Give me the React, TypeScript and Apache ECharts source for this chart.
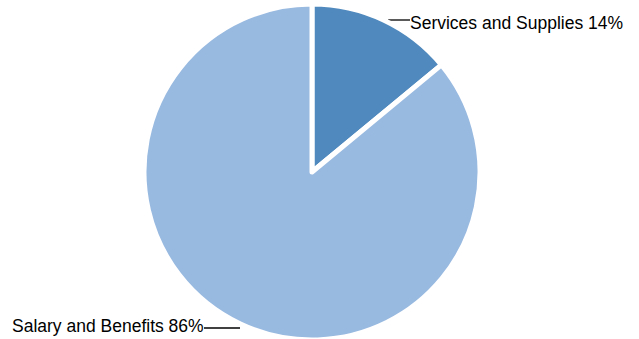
import React, { useEffect, useRef } from "react";
import * as echarts from "echarts";

const categories = ["Services and Supplies", "Salary and Benefits"];
const values = [14, 86];
const colors = ["#4F89BD", "#98B9E0"];

export default function App() {
  const ref = useRef<HTMLDivElement>(null);
  useEffect(() => {
    if (!ref.current) return;
    const chart = echarts.init(ref.current, null, { renderer: "svg" });
    const labelPos = [
      { x: 410, y: 23, line: [[388, 20], [410, 20]] },
      { x: 12, y: 326, line: [[204, 328], [240, 328]] },
    ];
    chart.setOption({
      animation: false,
      backgroundColor: "#ffffff",
      series: [
        {
          type: "pie",
          center: [312, 172],
          radius: 168,
          startAngle: 90,
          clockwise: true,
          avoidLabelOverlap: false,
          data: categories.map((c, i) => ({
            name: c,
            value: values[i],
            itemStyle: { color: colors[i] },
          })),
          itemStyle: { borderColor: "#ffffff", borderWidth: 5, borderJoin: "round" },
          label: {
            show: true,
            formatter: "{b} {c}%",
            fontFamily: "'Liberation Sans', Arial, sans-serif",
            fontSize: 17.5,
            color: "#000000",
          },
          labelLine: { show: true, lineStyle: { color: "#000000", width: 1.3 } },
          labelLayout: (params: any) => {
            const p = labelPos[params.dataIndex];
            return {
              x: p.x,
              y: p.y,
              align: "left",
              verticalAlign: "middle",
              labelLinePoints: p.line,
            };
          },
          emphasis: { disabled: true },
        },
      ],
    });
    return () => chart.dispose();
  }, []);
  return (
    <div
      ref={ref}
      style={{ position: "fixed", left: 0, top: 0, width: 639, height: 339 }}
    />
  );
}
